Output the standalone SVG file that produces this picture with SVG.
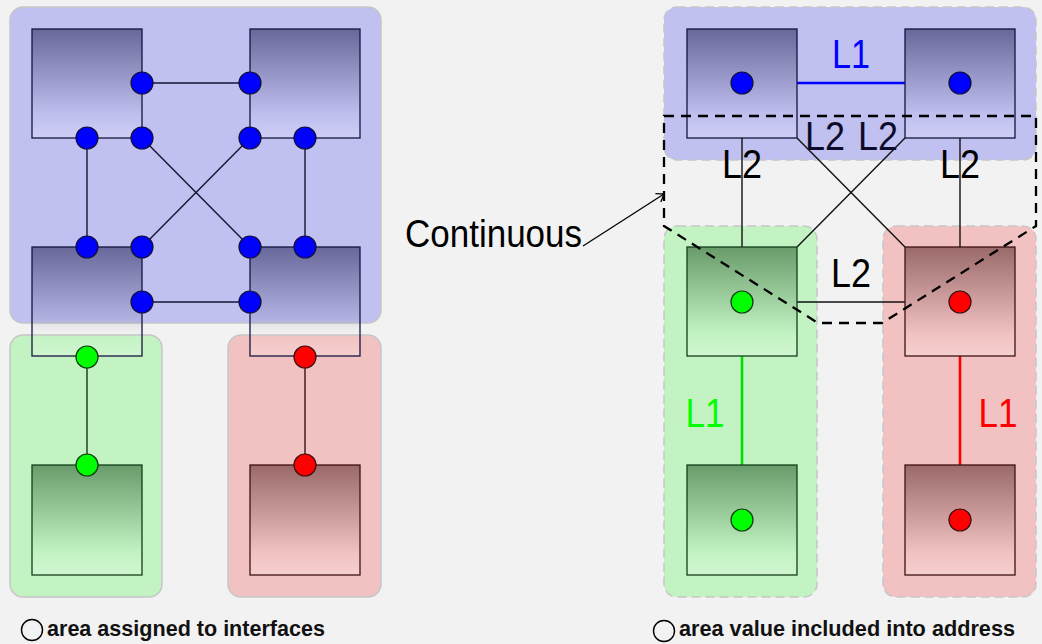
<svg xmlns="http://www.w3.org/2000/svg" width="1042" height="644" viewBox="0 0 1042 644">
  <defs>
    <style>
      .bg { fill: #f2f2f2; }
      .area { stroke: #c6c6c6; stroke-width: 1.5; }
      .area-dash { stroke: #c6c6c6; stroke-width: 1.5; stroke-dasharray: 9 5; }
      .a-blue { fill: #c0c0f1; }
      .a-green { fill: #c3f3c3; }
      .a-red { fill: #f2c2c2; }
      .box { stroke-width: 1.3; }
      .bx-blue { fill: url(#gBlue); stroke: #15153f; }
      .bx-green { fill: url(#gGreen); stroke: #12401a; }
      .bx-red { fill: url(#gRed); stroke: #401212; }
      .link { stroke: #151530; stroke-width: 1.4; fill: none; }
      .link-k { stroke: #111; stroke-width: 1.4; fill: none; }
      .l1-blue { stroke: #0000ff; stroke-width: 2.6; }
      .l1-green { stroke: #00e000; stroke-width: 2.6; }
      .l1-red { stroke: #ff0000; stroke-width: 2.6; }
      .if-blue { fill: #0000ff; stroke: #10103a; stroke-width: 1.2; }
      .if-green { fill: #00ff00; stroke: #0e3a0e; stroke-width: 1.2; }
      .if-red { fill: #ff0000; stroke: #3a0e0e; stroke-width: 1.2; }
      .lbl { font-family: "Liberation Sans", "DejaVu Sans", sans-serif; font-size: 40px; text-anchor: middle; }
      .legend { font-family: "Liberation Sans", "DejaVu Sans", sans-serif; font-size: 22px; font-weight: bold; fill: #111; }
      .cont { fill: none; stroke: #000; stroke-width: 2.3; stroke-dasharray: 10 7; }
    </style>
    <linearGradient id="gBlue" x1="0" y1="0" x2="0" y2="1">
      <stop offset="0" stop-color="#000033" stop-opacity="0.46"/>
      <stop offset="0.8" stop-color="#000033" stop-opacity="0"/>
      <stop offset="0.8" stop-color="#ffffff" stop-opacity="0"/>
      <stop offset="1" stop-color="#ffffff" stop-opacity="0.22"/>
    </linearGradient>
    <linearGradient id="gGreen" x1="0" y1="0" x2="0" y2="1">
      <stop offset="0" stop-color="#003300" stop-opacity="0.46"/>
      <stop offset="0.8" stop-color="#003300" stop-opacity="0"/>
      <stop offset="0.8" stop-color="#ffffff" stop-opacity="0"/>
      <stop offset="1" stop-color="#ffffff" stop-opacity="0.22"/>
    </linearGradient>
    <linearGradient id="gRed" x1="0" y1="0" x2="0" y2="1">
      <stop offset="0" stop-color="#330000" stop-opacity="0.46"/>
      <stop offset="0.8" stop-color="#330000" stop-opacity="0"/>
      <stop offset="0.8" stop-color="#ffffff" stop-opacity="0"/>
      <stop offset="1" stop-color="#ffffff" stop-opacity="0.22"/>
    </linearGradient>
    <marker id="arrowTo" markerUnits="userSpaceOnUse" markerWidth="16" markerHeight="16" refX="0" refY="0" viewBox="-10 -8 12 16" orient="auto">
      <path d="M-7,-5 Q-2,-1.5 0,0 Q-2,1.5 -7,5" fill="none" stroke="#000" stroke-width="1.3"/>
    </marker>
  </defs>

  <rect class="bg" x="0" y="0" width="1042" height="644"/>

  <!-- ===== Left: areas assigned to interfaces ===== -->
  <g id="left-areas">
    <rect id="area-l-blue" class="area a-blue" x="10" y="7" width="371" height="316" rx="13"/>
    <rect id="area-l-green" class="area a-green" x="10" y="335" width="152" height="262" rx="13"/>
    <rect id="area-l-red" class="area a-red" x="228" y="335" width="153" height="262" rx="13"/>
  </g>

  <g id="left-connectors">
    <line class="link" x1="142" y1="83" x2="250" y2="83"/>
    <line class="link" x1="87" y1="138" x2="87" y2="247"/>
    <line class="link" x1="305" y1="138" x2="305" y2="247"/>
    <line class="link" x1="142" y1="138" x2="250" y2="247"/>
    <line class="link" x1="250" y1="138" x2="142" y2="247"/>
    <line class="link" x1="142" y1="302" x2="250" y2="302"/>
    <line class="link" x1="87" y1="357" x2="87" y2="465" style="stroke:#123a12"/>
    <line class="link" x1="305" y1="357" x2="305" y2="465" style="stroke:#3a1212"/>
  </g>

  <g id="l-node-tl">
    <rect class="box bx-blue" x="32" y="29" width="110" height="109"/>
    <circle class="if-blue" cx="142" cy="83" r="11"/>
    <circle class="if-blue" cx="87" cy="138" r="11"/>
    <circle class="if-blue" cx="142" cy="138" r="11"/>
  </g>
  <g id="l-node-tr">
    <rect class="box bx-blue" x="250" y="29" width="110" height="109"/>
    <circle class="if-blue" cx="250" cy="83" r="11"/>
    <circle class="if-blue" cx="250" cy="138" r="11"/>
    <circle class="if-blue" cx="305" cy="138" r="11"/>
  </g>
  <g id="l-node-ml">
    <rect class="box bx-blue" x="32" y="247" width="110" height="109"/>
    <circle class="if-blue" cx="87" cy="247" r="11"/>
    <circle class="if-blue" cx="142" cy="247" r="11"/>
    <circle class="if-blue" cx="142" cy="302" r="11"/>
    <circle class="if-green" cx="87" cy="357" r="11"/>
  </g>
  <g id="l-node-mr">
    <rect class="box bx-blue" x="250" y="247" width="110" height="109"/>
    <circle class="if-blue" cx="250" cy="247" r="11"/>
    <circle class="if-blue" cx="305" cy="247" r="11"/>
    <circle class="if-blue" cx="250" cy="302" r="11"/>
    <circle class="if-red" cx="305" cy="357" r="11"/>
  </g>
  <g id="l-node-bl">
    <rect class="box bx-green" x="32" y="465" width="110" height="110"/>
    <circle class="if-green" cx="87" cy="465" r="11"/>
  </g>
  <g id="l-node-br">
    <rect class="box bx-red" x="250" y="465" width="110" height="110"/>
    <circle class="if-red" cx="305" cy="465" r="11"/>
  </g>

  <g id="legend-left">
    <circle cx="32" cy="630" r="10.5" fill="none" stroke="#000" stroke-width="1.4"/>
    <text class="legend" x="47" y="636" textLength="278" lengthAdjust="spacingAndGlyphs">area assigned to interfaces</text>
  </g>

  <!-- ===== Right: area value included into address ===== -->
  <g id="right-areas">
    <rect id="area-r-blue" class="area-dash a-blue" x="664" y="7" width="372" height="153" rx="13"/>
    <rect id="area-r-green" class="area-dash a-green" x="664" y="226" width="153" height="371" rx="13"/>
    <rect id="area-r-red" class="area-dash a-red" x="883" y="226" width="153" height="371" rx="13"/>
  </g>

  <g id="right-connectors">
    <line class="l1-blue" x1="797" y1="83" x2="905" y2="83"/>
    <line class="link-k" x1="742" y1="138" x2="742" y2="247"/>
    <line class="link-k" x1="960" y1="138" x2="960" y2="247"/>
    <line class="link-k" x1="797" y1="138" x2="905" y2="247"/>
    <line class="link-k" x1="905" y1="138" x2="797" y2="247"/>
    <line class="link-k" x1="797" y1="302" x2="905" y2="302"/>
    <line class="l1-green" x1="742" y1="356" x2="742" y2="465"/>
    <line class="l1-red" x1="960" y1="356" x2="960" y2="465"/>
  </g>

  <g id="r-node-tl">
    <rect class="box bx-blue" x="687" y="29" width="110" height="109"/>
    <circle class="if-blue" cx="742" cy="83" r="11"/>
  </g>
  <g id="r-node-tr">
    <rect class="box bx-blue" x="905" y="29" width="110" height="109"/>
    <circle class="if-blue" cx="960" cy="83" r="11"/>
  </g>
  <g id="r-node-ml">
    <rect class="box bx-green" x="687" y="247" width="110" height="109"/>
    <circle class="if-green" cx="742" cy="302" r="11"/>
  </g>
  <g id="r-node-mr">
    <rect class="box bx-red" x="905" y="247" width="110" height="109"/>
    <circle class="if-red" cx="960" cy="302" r="11"/>
  </g>
  <g id="r-node-bl">
    <rect class="box bx-green" x="687" y="465" width="110" height="110"/>
    <circle class="if-green" cx="742" cy="520" r="11"/>
  </g>
  <g id="r-node-br">
    <rect class="box bx-red" x="905" y="465" width="110" height="110"/>
    <circle class="if-red" cx="960" cy="520" r="11"/>
  </g>

  <g id="link-labels">
    <text class="lbl" x="851" y="68" fill="#0000ff" textLength="38" lengthAdjust="spacingAndGlyphs">L1</text>
    <text class="lbl" x="742" y="178" fill="#000" textLength="40" lengthAdjust="spacingAndGlyphs">L2</text>
    <text class="lbl" x="825" y="150" fill="#0c0c2a" textLength="40" lengthAdjust="spacingAndGlyphs">L2</text>
    <text class="lbl" x="878" y="150" fill="#0c0c2a" textLength="40" lengthAdjust="spacingAndGlyphs">L2</text>
    <text class="lbl" x="960" y="178" fill="#000" textLength="40" lengthAdjust="spacingAndGlyphs">L2</text>
    <text class="lbl" x="851" y="287" fill="#000" textLength="40" lengthAdjust="spacingAndGlyphs">L2</text>
    <text class="lbl" x="705" y="427" fill="#00ff00" textLength="39" lengthAdjust="spacingAndGlyphs">L1</text>
    <text class="lbl" x="998" y="427" fill="#ff0000" textLength="39" lengthAdjust="spacingAndGlyphs">L1</text>
  </g>

  <!-- continuous addressing zone -->
  <g id="continuous-zone">
    <path class="cont" d="M664,116 H1036 V226 L882,323 H818 L664,226 Z"/>
    <text x="405" y="247" font-family="Liberation Sans, DejaVu Sans, sans-serif" font-size="38" fill="#000" textLength="177" lengthAdjust="spacingAndGlyphs">Continuous</text>
    <line x1="583" y1="246" x2="664" y2="194" stroke="#000" stroke-width="1.3" marker-end="url(#arrowTo)"/>
  </g>

  <g id="legend-right">
    <circle cx="664" cy="631" r="10.5" fill="none" stroke="#000" stroke-width="1.4"/>
    <text class="legend" x="679" y="636" textLength="336" lengthAdjust="spacingAndGlyphs">area value included into address</text>
  </g>
</svg>
